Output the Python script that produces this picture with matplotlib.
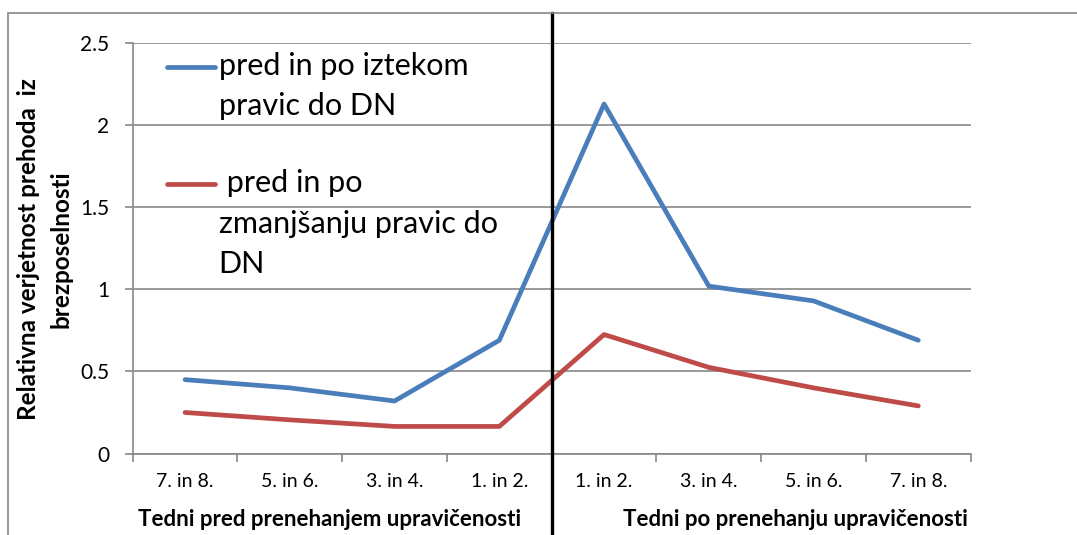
import numpy as np
import matplotlib.pyplot as plt
from matplotlib.lines import Line2D
from matplotlib.patches import Rectangle
import matplotlib.transforms as mtransforms

plt.rcParams['font.family'] = ['Lato', 'DejaVu Sans']

# data
cats_before = ["7. in 8.", "5. in 6.", "3. in 4.", "1. in 2."]
cats_after = ["1. in 2.", "3. in 4.", "5. in 6.", "7. in 8."]
blue_vals = [0.45, 0.40, 0.32, 0.69, 2.13, 1.02, 0.93, 0.69]
red_vals = [0.25, 0.205, 0.165, 0.165, 0.725, 0.525, 0.40, 0.29]
label_blue = "pred in po iztekom\npravic do DN"
label_red = " pred in po\nzmanjšanju pravic do\nDN"
yticks = [0, 0.5, 1, 1.5, 2, 2.5]
ytick_labels = ["0", "0.5", "1", "1.5", "2", "2.5"]

BLUE = "#4A7EBB"
RED = "#BE4B48"
GRID = "#888888"

xpos = np.arange(len(blue_vals))
split_x = 3.5

W, H = 1077, 535
fig = plt.figure(figsize=(W / 100, H / 100), dpi=100)
ax = fig.add_axes([132.7 / W, 1 - 453.5 / H, (970.7 - 132.7) / W, (453.5 - 43.3) / H])

ax.plot(xpos, blue_vals, color=BLUE, lw=3.4, solid_capstyle='round', zorder=3)
ax.plot(xpos, red_vals, color=RED, lw=3.4, solid_capstyle='round', zorder=3)

ax.set_xlim(-0.5, len(xpos) - 0.5)
ax.set_ylim(0, 2.5)
ax.set_yticks(yticks)
ax.set_yticklabels(ytick_labels, fontsize=15)
ax.yaxis.grid(True, color=GRID, lw=1.2)
ax.set_axisbelow(True)

# category labels + boundary ticks
ax.set_xticks(xpos)
ax.set_xticklabels(cats_before + cats_after, fontsize=14)
ax.tick_params(axis='x', which='major', length=0, pad=14)
ax.set_xticks(np.arange(-0.5, len(xpos), 1.0), minor=True)
ax.tick_params(axis='x', which='minor', length=6, width=1.2, color=GRID)
ax.tick_params(axis='y', length=6, width=1.2, color=GRID, pad=11)

for s in ['top', 'right']:
    ax.spines[s].set_visible(False)
for s in ['left', 'bottom']:
    ax.spines[s].set_color(GRID)
    ax.spines[s].set_linewidth(1.2)

# y label (two lines, bold)
fig.text(29 / W, 1 - 249 / H, "Relativna verjetnost prehoda  iz", rotation=90,
         ha='center', va='center', fontsize=17.5, fontweight='bold')
fig.text(61 / W, 1 - 249 / H, "brezposelnosti", rotation=90,
         ha='center', va='center', fontsize=17.5, fontweight='bold')

# x group labels
fig.text(330 / W, 1 - 519 / H, "Tedni pred prenehanjem upravičenosti",
         ha='center', va='center', fontsize=16, fontweight='bold')
fig.text(795 / W, 1 - 519 / H, "Tedni po prenehanju upravičenosti",
         ha='center', va='center', fontsize=16, fontweight='bold')

# legend drawn by hand (handle on first text line)
def legend_entry(y_px, color, text):
    y = 1 - y_px / H
    fig.add_artist(Line2D([167 / W, 215 / W], [y, y], color=color, lw=3.4,
                          solid_capstyle='round'))
    fig.text(218.7 / W, y + 15 / H, text, ha='left', va='top', fontsize=22,
             linespacing=1.55)

legend_entry(66.7, BLUE, label_blue)
legend_entry(184, RED, label_red)

# dividing black line from the top border to the bottom
trans = mtransforms.blended_transform_factory(ax.transData, fig.transFigure)
ax.add_line(Line2D([split_x, split_x], [0, 1 - 12.7 / H], transform=trans,
                   color='black', lw=2.4, clip_on=False, zorder=5))

# outer chart border
fig.add_artist(Rectangle((8.3 / W, -0.1), 1.2, 1.1 - 12.7 / H, transform=fig.transFigure,
                         fill=False, edgecolor=GRID, lw=1.2))

fig.savefig("out.png", dpi=100)
